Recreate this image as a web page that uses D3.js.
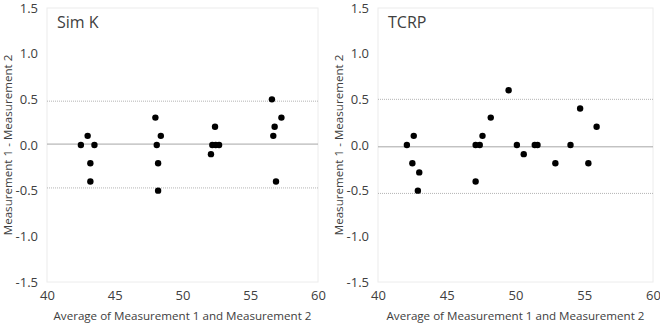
<!DOCTYPE html>
<html>
<head>
<meta charset="utf-8">
<script src="https://cdn.jsdelivr.net/npm/d3@7"></script>
<style>
  body { margin: 0; background: #fff; }
  text { font-family: "Open Sans", sans-serif; fill: #404040; }
</style>
</head>
<body>
<div class="chart"></div>
<script>
	// data
	var simKAvg  = [42.5, 43.0, 43.5, 43.2, 43.2, 48.0, 48.4, 48.1, 48.2, 48.2, 52.1, 52.4, 52.2, 52.45, 52.7, 56.6, 57.3, 56.8, 56.7, 56.9];
	var simKDiff = [0.0, 0.1, 0.0, -0.2, -0.4, 0.3, 0.1, 0.0, -0.2, -0.5, -0.1, 0.2, 0.0, 0.0, 0.0, 0.5, 0.3, 0.2, 0.1, -0.4];
	var simKLines = [0.01, 0.48, -0.47];   // mean, upper, lower

	var tcrpAvg  = [42.1, 42.6, 42.5, 43.0, 42.9, 47.1, 47.1, 47.4, 47.6, 48.2, 49.5, 50.1, 50.6, 51.4, 51.6, 52.9, 54.0, 54.7, 55.3, 55.9];
	var tcrpDiff = [0.0, 0.1, -0.2, -0.3, -0.5, -0.4, 0.0, 0.0, 0.1, 0.3, 0.6, 0.0, -0.1, 0.0, 0.0, -0.2, 0.0, 0.4, -0.2, 0.2];
	var tcrpLines = [-0.02, 0.5, -0.53];

	var xTicks = [40, 45, 50, 55, 60];
	var yTicks = [-1.5, -1.0, -0.5, 0.0, 0.5, 1.0, 1.5];

	var panels = [
		{ title: "Sim K", avg: simKAvg, diff: simKDiff, lines: simKLines, left: 47, width: 271 },
		{ title: "TCRP", avg: tcrpAvg, diff: tcrpDiff, lines: tcrpLines, left: 378, width: 275 }
	];

	var svg = d3.select(".chart")
		.append("svg")
			.attr("width", 660)
			.attr("height", 324);

	panels.forEach(function(p) {
		var top = 8,
			w = p.width,
			h = 282 - top;

		var g = svg.append("g")
			.attr("transform", "translate(" + p.left + "," + top + ")");

		var x = d3.scaleLinear().domain([40, 60]).range([0, w]);
		var y = d3.scaleLinear().domain([-1.5, 1.5]).range([h, 0]);

		// faint plot frame
		g.append("rect")
			.attr("width", w)
			.attr("height", h)
			.attr("fill", "none")
			.attr("stroke", "#ececec");

		// axes (labels only)
		var xAxis = g.append("g")
			.attr("transform", "translate(0," + h + ")")
			.call(d3.axisBottom(x).tickValues(xTicks).tickSize(0).tickPadding(9));
		var yAxis = g.append("g")
			.call(d3.axisLeft(y).tickValues(yTicks).tickSize(0).tickPadding(9)
				.tickFormat(function(d) { return d3.format(".1f")(d).replace("−", "-"); }));
		[xAxis, yAxis].forEach(function(a) {
			a.select(".domain").remove();
			a.selectAll("text").attr("font-size", "13px").attr("fill", "#404040")
				.attr("font-family", "'Open Sans', sans-serif");
		});

		// mean and limits
		g.append("line")
			.attr("x1", 0).attr("x2", w)
			.attr("y1", y(p.lines[0])).attr("y2", y(p.lines[0]))
			.attr("stroke", "#a6a6a6").attr("stroke-width", 1);
		[p.lines[1], p.lines[2]].forEach(function(v) {
			g.append("line")
				.attr("x1", 0).attr("x2", w)
				.attr("y1", y(v)).attr("y2", y(v))
				.attr("stroke", "#b4b4b4").attr("stroke-width", 1)
				.attr("stroke-dasharray", "1,1");
		});

		// points
		g.selectAll(".dot")
			.data(d3.range(p.avg.length))
			.enter().append("circle")
				.attr("class", "dot")
				.attr("cx", function(i) { return x(p.avg[i]); })
				.attr("cy", function(i) { return y(p.diff[i]); })
				.attr("r", 3.2)
				.attr("fill", "#000");

		// panel title
		g.append("text")
			.attr("x", 10)
			.attr("y", 20)
			.attr("font-size", "16px")
			.attr("fill", "#000")
			.text(p.title);

		// axis titles
		g.append("text")
			.attr("x", w / 2)
			.attr("y", h + 38)
			.attr("text-anchor", "middle")
			.attr("font-size", "11.6px")
			.text("Average of Measurement 1 and Measurement 2");

		g.append("text")
			.attr("transform", "rotate(-90)")
			.attr("x", -h / 2)
			.attr("y", -35)
			.attr("text-anchor", "middle")
			.attr("font-size", "11.6px")
			.text("Measurement 1 - Measurement 2");
	});
</script>
</body>
</html>
